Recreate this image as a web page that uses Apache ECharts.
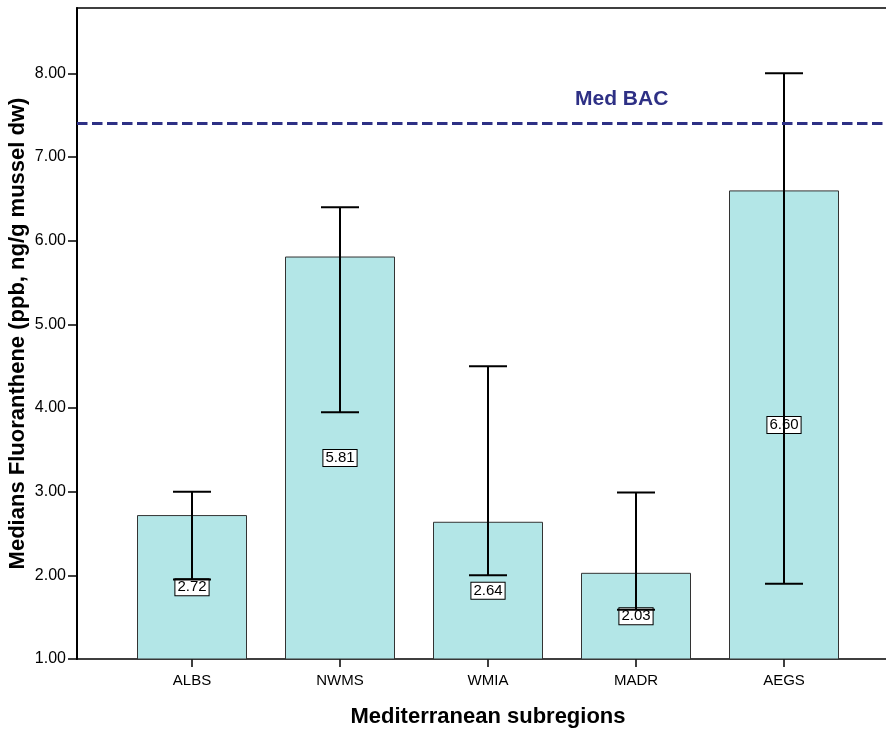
<!DOCTYPE html>
<html>
<head>
<meta charset="utf-8">
<script src="https://cdn.jsdelivr.net/npm/echarts@6/dist/echarts.min.js"></script>
<style>html,body{margin:0;padding:0;background:#fff}#c{width:886px;height:729px}</style>
</head>
<body>
<div id="c"></div>
<script>
const categories = ['ALBS', 'NWMS', 'WMIA', 'MADR', 'AEGS'];
const medians = [2.72, 5.81, 2.64, 2.03, 6.60];
const lowerErr = [1.95, 3.95, 2.00, 1.59, 1.90];
const upperErr = [3.00, 6.40, 4.50, 2.99, 8.00];
const yTicks = [1, 2, 3, 4, 5, 6, 7, 8];
const bacValue = 7.4;
const bacLabel = 'Med BAC';
const xTitle = 'Mediterranean subregions';
const yTitle = 'Medians Fluoranthene (ppb, ng/g mussel dw)';

const FONT = '"Liberation Sans", Arial, sans-serif';
const Y_MIN = 1, Y_MAX = 8.78;

const chart = echarts.init(document.getElementById('c'), null, {renderer: 'canvas'});

const errData = categories.map((c, i) => [i, lowerErr[i], upperErr[i]]);

chart.setOption({
  animation: false,
  backgroundColor: '#fff',
  grid: [
    {left: 118, top: 8, width: 740, height: 651, show: false, outerBoundsMode: 'none', containLabel: false},
    {left: 77, top: 8, width: 830, height: 651, show: true, borderColor: '#000', borderWidth: 1.5,
      backgroundColor: 'transparent', outerBoundsMode: 'none', containLabel: false}
  ],
  xAxis: [
    {
      type: 'category', gridIndex: 0, data: categories,
      axisLine: {show: false},
      axisTick: {show: true, alignWithLabel: true, length: 8, lineStyle: {color: '#000', width: 1.5}},
      axisLabel: {color: '#000', fontSize: 15, fontFamily: FONT, margin: 14},
      name: xTitle, nameLocation: 'middle', nameGap: 47, nameMoveOverlap: false,
      nameTextStyle: {color: '#000', fontSize: 22, fontWeight: 'bold', fontFamily: FONT}
    },
    {type: 'value', gridIndex: 1, min: 0, max: 1, show: false}
  ],
  yAxis: [
    {
      type: 'value', gridIndex: 0, min: Y_MIN, max: Y_MAX, interval: 1, offset: 41,
      axisLine: {show: true, lineStyle: {color: '#000', width: 2}},
      axisTick: {show: true, length: 9, customValues: yTicks, lineStyle: {color: '#000', width: 1.5}},
      axisLabel: {customValues: yTicks, color: '#000', fontSize: 16, fontFamily: FONT, margin: 11,
        formatter: v => v.toFixed(2)},
      splitLine: {show: false},
      name: yTitle, nameLocation: 'middle', nameGap: 48, nameMoveOverlap: false,
      nameTextStyle: {color: '#000', fontSize: 22, fontWeight: 'bold', fontFamily: FONT}
    },
    {type: 'value', gridIndex: 1, min: Y_MIN, max: Y_MAX, show: false}
  ],
  series: [
    {
      type: 'bar', xAxisIndex: 0, yAxisIndex: 0, data: medians, barWidth: 110,
      itemStyle: {color: '#b3e6e7', borderColor: '#333', borderWidth: 1},
      label: {
        show: true, position: 'inside', formatter: p => p.value.toFixed(2),
        color: '#000', fontSize: 15, fontFamily: FONT,
        backgroundColor: '#fff', borderColor: '#000', borderWidth: 1, padding: [1, 2, 0, 2]
      },
      z: 2
    },
    {
      type: 'custom', xAxisIndex: 0, yAxisIndex: 0, data: errData, z: 3,
      renderItem: function (params, api) {
        const x = api.value(0);
        const lo = api.coord([x, api.value(1)]);
        const hi = api.coord([x, api.value(2)]);
        const hw = 19;
        const st = {stroke: '#000', lineWidth: 2};
        return {
          type: 'group',
          children: [
            {type: 'line', shape: {x1: lo[0], y1: lo[1], x2: hi[0], y2: hi[1]}, style: st},
            {type: 'line', shape: {x1: lo[0] - hw, y1: lo[1], x2: lo[0] + hw, y2: lo[1]}, style: st},
            {type: 'line', shape: {x1: hi[0] - hw, y1: hi[1], x2: hi[0] + hw, y2: hi[1]}, style: st}
          ]
        };
      }
    },
    {
      type: 'line', xAxisIndex: 1, yAxisIndex: 1, data: [], z: 4,
      markLine: {
        silent: true, symbol: 'none',
        lineStyle: {color: '#2e3085', width: 3, type: [10.5, 4.5]},
        label: {show: false},
        data: [{yAxis: bacValue}]
      }
    }
  ],
  graphic: [
    {
      type: 'text', left: 575, top: 89, z: 10,
      style: {text: bacLabel, fill: '#2e3085', font: 'bold 21px ' + FONT}
    }
  ]
});
</script>
</body>
</html>
